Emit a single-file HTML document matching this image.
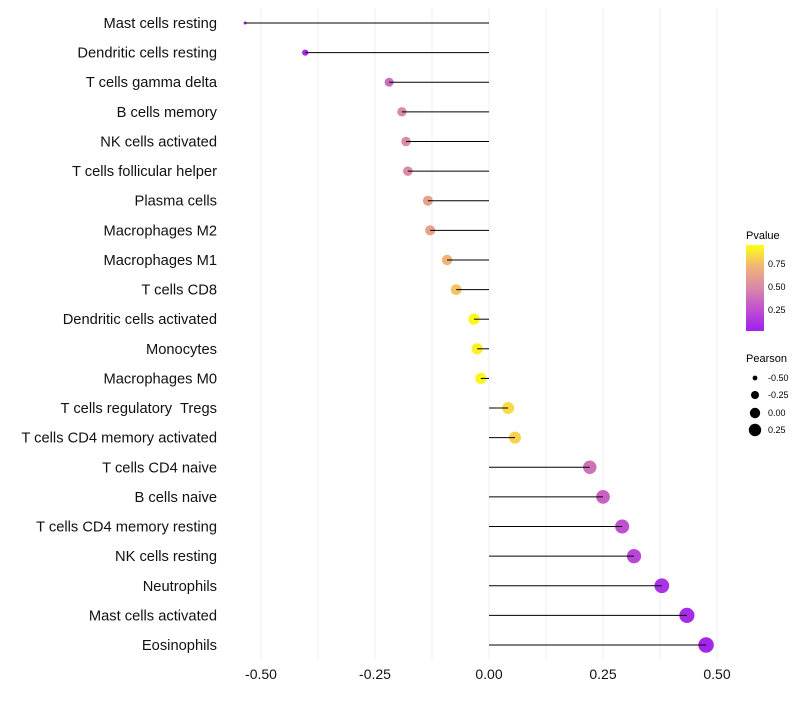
<!DOCTYPE html>
<html><head><meta charset="utf-8"><style>
body{margin:0;background:#fff;font-family:"Liberation Sans",sans-serif;}
svg text{font-family:"Liberation Sans",sans-serif;white-space:pre;}
</style></head><body>
<svg id="chart" width="800" height="700" xmlns="http://www.w3.org/2000/svg">
<defs><linearGradient id="pg" x1="0" y1="1" x2="0" y2="0">
<stop offset="0" stop-color="#a020f0"/><stop offset="0.25" stop-color="#bf50d0"/><stop offset="0.5" stop-color="#d888a8"/><stop offset="0.75" stop-color="#f0b478"/><stop offset="1" stop-color="#ffff10"/>
</linearGradient></defs>
<g id="grid"></g>
<g id="marks"></g>
<g id="ylabels"></g>
<g id="xlabels"></g>
<g>
<text x="746" y="239" font-size="11" fill="#000">Pvalue</text>
<rect x="746" y="245" width="18" height="86" fill="url(#pg)"/>
<text x="768" y="267" font-size="9">0.75</text>
<text x="768" y="290" font-size="9">0.50</text>
<text x="768" y="313" font-size="9">0.25</text>
</g>
<g>
<text x="746" y="362" font-size="11">Pearson</text>
<circle cx="755" cy="378" r="2.4" fill="#000"/>
<circle cx="755" cy="395" r="4" fill="#000"/>
<circle cx="755" cy="413" r="5.2" fill="#000"/>
<circle cx="755" cy="430" r="6.2" fill="#000"/>
<text x="768" y="381" font-size="9">-0.50</text>
<text x="768" y="398" font-size="9">-0.25</text>
<text x="768" y="416" font-size="9">0.00</text>
<text x="768" y="433" font-size="9">0.25</text>
</g>
</svg>
<script>
const categories=["Mast cells resting","Dendritic cells resting","T cells gamma delta","B cells memory","NK cells activated","T cells follicular helper","Plasma cells","Macrophages M2","Macrophages M1","T cells CD8","Dendritic cells activated","Monocytes","Macrophages M0","T cells regulatory  Tregs ","T cells CD4 memory activated","T cells CD4 naive","B cells naive","T cells CD4 memory resting","NK cells resting","Neutrophils","Mast cells activated","Eosinophils"];
const pearson=[-0.535,-0.403,-0.219,-0.191,-0.182,-0.178,-0.134,-0.129,-0.092,-0.072,-0.033,-0.026,-0.018,0.042,0.057,0.221,0.25,0.292,0.318,0.379,0.434,0.476];
const pvalues=[0.03,0.06,0.38,0.5,0.52,0.52,0.65,0.65,0.75,0.8,0.97,0.95,0.97,0.88,0.85,0.4,0.33,0.25,0.2,0.1,0.06,0.03];
const xTicks=[-0.5,-0.25,0,0.25,0.5];
const xTickLabels=["-0.50","-0.25","0.00","0.25","0.50"];
const NS="http://www.w3.org/2000/svg";
const xs=v=>489+v*456;
const ys=i=>23+i*(622/(categories.length-1));
const pmin=Math.min(...pearson),pmax=Math.max(...pearson);
const rs=v=>Math.sqrt(2.25+(v-pmin)/(pmax-pmin)*(60-2.25));
const stops=[[0,[160,32,240]],[0.25,[191,80,208]],[0.5,[216,136,168]],[0.75,[240,180,120]],[1,[255,255,16]]];
function col(p){for(let k=1;k<stops.length;k++){if(p<=stops[k][0]){const a=stops[k-1],b=stops[k],t=(p-a[0])/(b[0]-a[0]);return "rgb("+a[1].map((c,j)=>Math.round(c+(b[1][j]-c)*t)).join(",")+")";}}return "rgb(255,255,16)";}
function mk(t,at,parent){const e=document.createElementNS(NS,t);for(const k in at)e.setAttribute(k,at[k]);parent.appendChild(e);return e;}
const grid=document.getElementById('grid'),marks=document.getElementById('marks'),yl=document.getElementById('ylabels'),xl=document.getElementById('xlabels');
for(let v=-0.5;v<=0.55;v+=0.125){const g=mk('line',{x1:xs(v),x2:xs(v),y1:8,y2:660,stroke:'#efefef','stroke-width':1},grid);

}
categories.forEach((c,i)=>{
const y=ys(i);
const dot=mk('circle',{cx:xs(pearson[i]),cy:y,r:rs(pearson[i]),fill:col(pvalues[i])},marks);


const ln=mk('line',{x1:xs(0),x2:xs(pearson[i]),y1:y,y2:y,stroke:'#000','stroke-width':1},marks);


const t=mk('text',{x:217,y:y+5,'text-anchor':'end','font-size':14.7,fill:'#111'},yl);
t.textContent=c.replace(/\s+$/,'');


});
xTicks.forEach((v,i)=>{const t=mk('text',{x:xs(v),y:679,'text-anchor':'middle','font-size':14,fill:'#111'},xl);t.textContent=xTickLabels[i];

});
</script>
</body></html>
